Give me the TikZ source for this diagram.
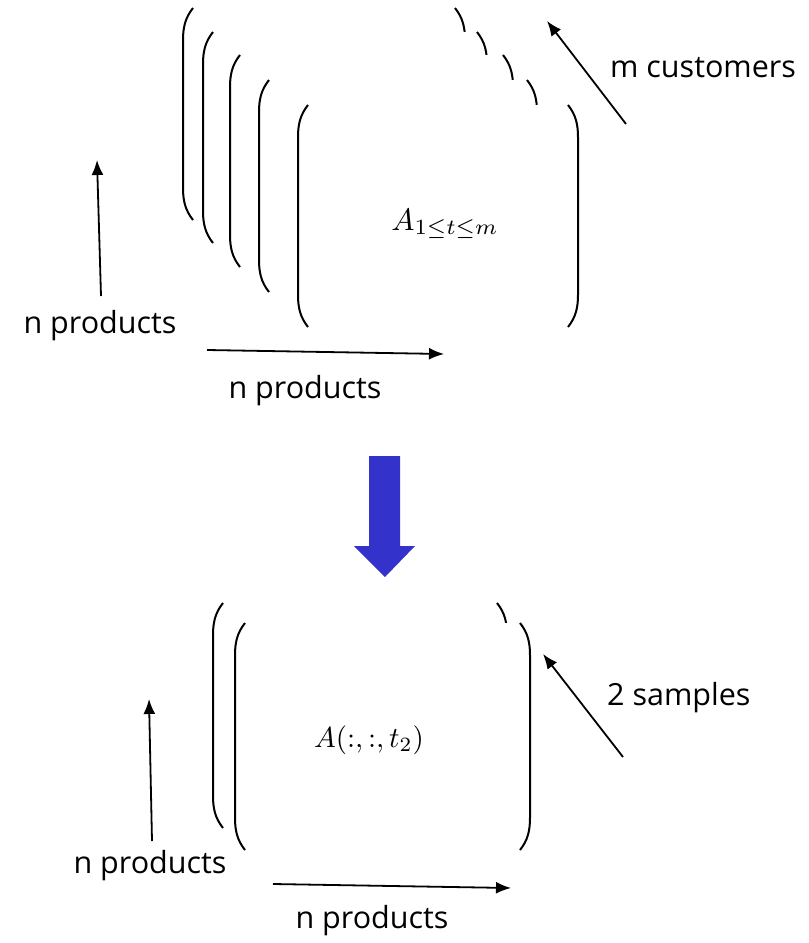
\documentclass[tikz,border=0pt]{standalone}
\usepackage{graphicx}
\usepackage{fontspec}
\setmainfont{Open Sans}
\usetikzlibrary{arrows.meta}
\tikzset{
  brk/.style={line width=2pt, black},
  arr/.style={line width=1.8pt, -{Latex[length=15pt,width=12pt]}},
  lbl/.style={font=\fontsize{30.5}{36}\selectfont, inner sep=0pt},
  mlbl/.style={inner sep=0pt},
}
\newcommand{\pmat}[4]{%
  \fill[white] (#1,#2) rectangle (#3,#4);
  \draw[brk] (#1+10,#2) .. controls (#1+2,#2+10) and (#1,#2+20) .. (#1,#2+32)
     -- (#1,#4-32) .. controls (#1,#4-20) and (#1+2,#4-10) .. (#1+10,#4);
  \draw[brk] (#3-10,#2) .. controls (#3-2,#2+10) and (#3,#2+20) .. (#3,#2+32)
     -- (#3,#4-32) .. controls (#3,#4-20) and (#3-2,#4-10) .. (#3-10,#4);
}
\begin{document}
\begin{tikzpicture}[x=1pt,y=-1pt]
\useasboundingbox[fill=white] (0,0) rectangle (809,943);
% top stack
\pmat{183}{8}{465}{220}
\pmat{203}{32}{487}{243}
\pmat{230}{55}{513}{267}
\pmat{259}{80}{537}{292}
\pmat{298}{105}{578}{327}
\node[mlbl] (atop) at (445,224) {\scalebox{3.1}{$A_{1\leq t\leq m}$}};
% top arrows
\coordinate (v1s) at (101,296);
\coordinate (v1e) at (97,160);
\draw[arr] (v1s) -- (v1e);
\node[lbl] (np1) at (100,326) {n products};
\coordinate (h1s) at (207,350);
\coordinate (h1e) at (444,354);
\draw[arr] (h1s) -- (h1e);
\node[lbl] (np2) at (305,391) {n products};
\coordinate (d1s) at (626,124);
\coordinate (d1e) at (547,21);
\draw[arr] (d1s) -- (d1e);
\node[lbl, anchor=west] (mc) at (610,68) {m customers};
% blue arrow
\fill[fill={rgb,255:red,51;green,51;blue,204}] (369,456) -- (400,456) -- (400,546) -- (415,546) -- (385,577) -- (354,546) -- (369,546) -- cycle;
% bottom stack
\pmat{213}{603}{507}{828}
\pmat{235}{623}{530}{850}
\node[mlbl] (abot) at (369,740) {\scalebox{2.9}{$A(:,:,t_2)$}};
\coordinate (v2s) at (152,841);
\coordinate (v2e) at (149,699);
\draw[arr] (v2s) -- (v2e);
\node[lbl] (np3) at (150,866) {n products};
\coordinate (h2s) at (273,884);
\coordinate (h2e) at (511,888);
\draw[arr] (h2s) -- (h2e);
\node[lbl] (np4) at (372,921) {n products};
\coordinate (d2s) at (623,757);
\coordinate (d2e) at (543,654);
\draw[arr] (d2s) -- (d2e);
\node[lbl, anchor=west] (ts) at (607,698) {2 samples};
\end{tikzpicture}
\end{document}
